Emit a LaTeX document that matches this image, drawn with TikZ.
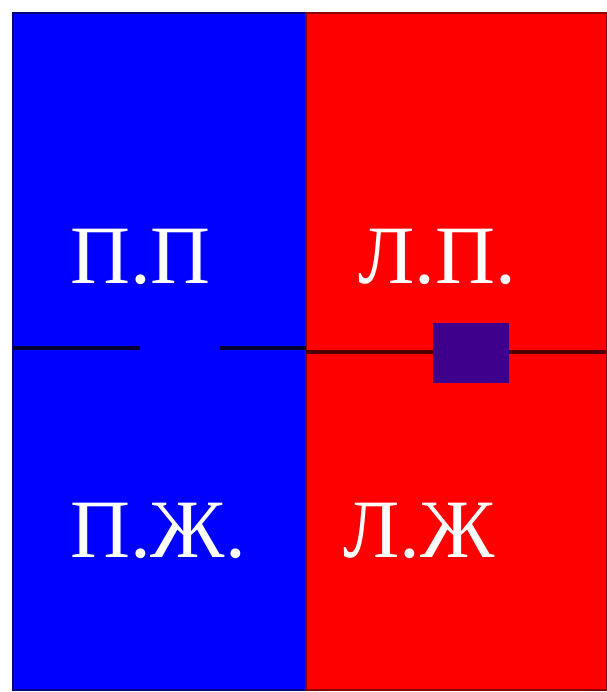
\documentclass[tikz,border=0pt]{standalone}
\usepackage{fontspec}
\setmainfont{Liberation Serif}

\begin{document}
\begin{tikzpicture}[
  x = 1pt, y = -1pt,
  every node/.style = {
    inner sep = 0pt, anchor = base west,
    text = white,
    font = \fontsize{83}{90}\selectfont
  },
  field/.style = {draw = blue!50!black, line width = 1.5pt},
  cut/.style = {draw = blue!20!black, line width = 3.2pt}
]
  \useasboundingbox (0,0) rectangle (606,692);

  % Flaechen
  \fill[white] (0,0) rectangle (606,692);
  \filldraw[field, fill=blue] (13,13) rectangle (306,690);
  \filldraw[field, draw=red!55!black, fill=red] (306,13) rectangle (607,690);

  % Trennlinie
  \draw[cut] (13,348) -- (140,348);
  \draw[cut] (220,348) -- (306,348);
  \draw[cut, draw=red!30!black] (306,352) -- (606,352);

  % Marke
  \fill[fill={rgb,255:red,62;green,0;blue,140}] (433,323) rectangle (509,383);

  % Beschriftung
  \node (PP) at (70,283)  {П.П};
  \node (LP) at (358,283) {Л.П.};
  \node (PZ) at (70,557)  {П.Ж.};
  \node (LZ) at (343,557) {Л.Ж};
\end{tikzpicture}
\end{document}
